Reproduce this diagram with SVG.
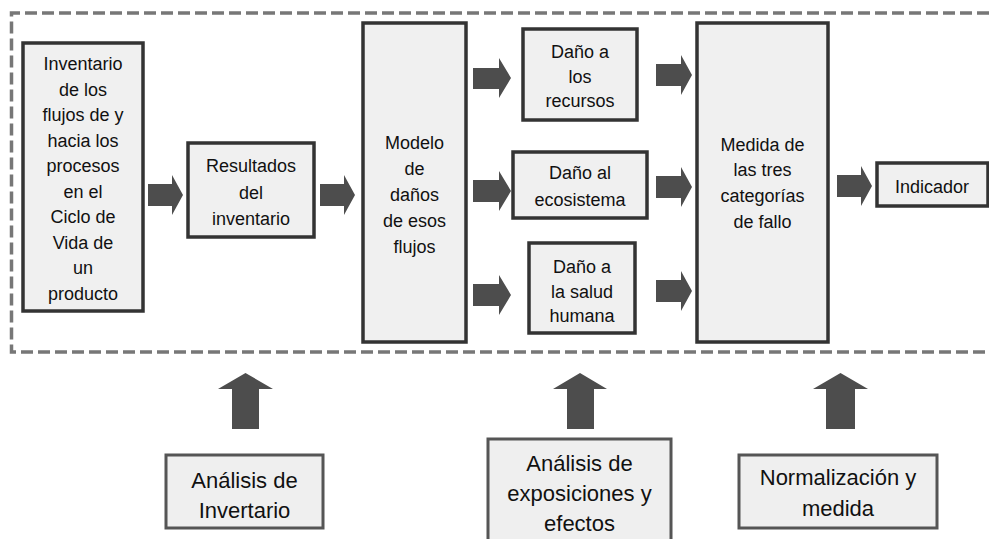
<svg xmlns="http://www.w3.org/2000/svg" width="989" height="539" viewBox="0 0 989 539">
<style>
.box{fill:#f0f0f0;stroke:#333;stroke-width:3.5}
.bbox{fill:#efefef;stroke:#555;stroke-width:3}
.t{font-family:"Liberation Sans",Arial,sans-serif;font-size:18px;fill:#111;text-anchor:middle}
.tb{font-family:"Liberation Sans",Arial,sans-serif;font-size:22px;fill:#111;text-anchor:middle}
.arr{fill:#4d4d4d}
.frame{fill:none;stroke:#777;stroke-width:3.5;stroke-dasharray:12 5}
</style>
<path class="frame" d="M989 13 H11.5 V352 H989"/>
<g id="connectors">
<path class="arr" d="M148 184 H172 V175 L183 195 L172 215 V206 H148 Z"/>
<path class="arr" d="M320 184 H344 V175 L355 195 L344 215 V206 H320 Z"/>
<path class="arr" d="M473 68 H499 V58 L511 78 L499 98 V89 H473 Z"/>
<path class="arr" d="M473 180 H499 V171 L511 191 L499 211 V202 H473 Z"/>
<path class="arr" d="M473 284 H499 V275 L511 295 L499 315 V306 H473 Z"/>
<path class="arr" d="M656 64 H681 V55 L692 75 L681 95 V86 H656 Z"/>
<path class="arr" d="M656 176 H681 V167 L692 187 L681 207 V198 H656 Z"/>
<path class="arr" d="M656 280 H681 V271 L692 291 L681 311 V302 H656 Z"/>
<path class="arr" d="M837 175 H861 V166 L872 186 L861 206 V197 H837 Z"/>
<path class="arr" d="M232 429 V389 H218 L245.5 373 L273 389 H259 V429 Z"/>
<path class="arr" d="M567 429 V389 H553 L580 373 L607 389 H594 V429 Z"/>
<path class="arr" d="M826 429 V389 H813 L840.5 373 L868 389 H855 V429 Z"/>
</g>
<g id="n-inventario">
<rect class="box" x="23" y="43" width="120" height="268"/>
<text class="t" x="83" y="70">Inventario</text>
<text class="t" x="83" y="95.5">de los</text>
<text class="t" x="83" y="121">flujos de y</text>
<text class="t" x="83" y="146.5">hacia los</text>
<text class="t" x="83" y="172">procesos</text>
<text class="t" x="83" y="197.5">en el</text>
<text class="t" x="83" y="223">Ciclo de</text>
<text class="t" x="83" y="248.5">Vida de</text>
<text class="t" x="83" y="274">un</text>
<text class="t" x="83" y="299.5">producto</text>
</g>
<g id="n-resultados">
<rect class="box" x="188" y="143" width="126" height="94"/>
<text class="t" x="251" y="172">Resultados</text>
<text class="t" x="251" y="199">del</text>
<text class="t" x="251" y="225">inventario</text>
</g>
<g id="n-modelo">
<rect class="box" x="363" y="23" width="103" height="319"/>
<text class="t" x="414.5" y="149">Modelo</text>
<text class="t" x="414.5" y="175">de</text>
<text class="t" x="414.5" y="201">daños</text>
<text class="t" x="414.5" y="227">de esos</text>
<text class="t" x="414.5" y="253">flujos</text>
</g>
<g id="n-recursos">
<rect class="box" x="523" y="29" width="114" height="91"/>
<text class="t" x="580" y="58">Daño a</text>
<text class="t" x="580" y="83">los</text>
<text class="t" x="580" y="107">recursos</text>
</g>
<g id="n-ecosistema">
<rect class="box" x="513" y="152" width="134" height="66"/>
<text class="t" x="580" y="179">Daño al</text>
<text class="t" x="580" y="206">ecosistema</text>
</g>
<g id="n-salud">
<rect class="box" x="529" y="243" width="106" height="90"/>
<text class="t" x="582" y="273">Daño a</text>
<text class="t" x="582" y="298">la salud</text>
<text class="t" x="582" y="322">humana</text>
</g>
<g id="n-medida">
<rect class="box" x="697" y="23" width="131" height="319"/>
<text class="t" x="762.5" y="151">Medida de</text>
<text class="t" x="762.5" y="176">las tres</text>
<text class="t" x="762.5" y="202">categorías</text>
<text class="t" x="762.5" y="228">de fallo</text>
</g>
<g id="n-indicador">
<rect class="box" x="877" y="163" width="111" height="43"/>
<text class="t" x="932" y="193">Indicador</text>
</g>
<g id="n-analisis-inv">
<rect class="bbox" x="166" y="455" width="157" height="73"/>
<text class="tb" x="244.5" y="488">Análisis de</text>
<text class="tb" x="244.5" y="518">Invertario</text>
</g>
<g id="n-analisis-exp">
<rect class="bbox" x="488" y="439" width="183" height="106"/>
<text class="tb" x="579.5" y="471">Análisis de</text>
<text class="tb" x="579.5" y="501">exposiciones y</text>
<text class="tb" x="579.5" y="531">efectos</text>
</g>
<g id="n-normalizacion">
<rect class="bbox" x="739" y="455" width="198" height="73"/>
<text class="tb" x="838" y="485">Normalización y</text>
<text class="tb" x="838" y="516">medida</text>
</g>
</svg>
